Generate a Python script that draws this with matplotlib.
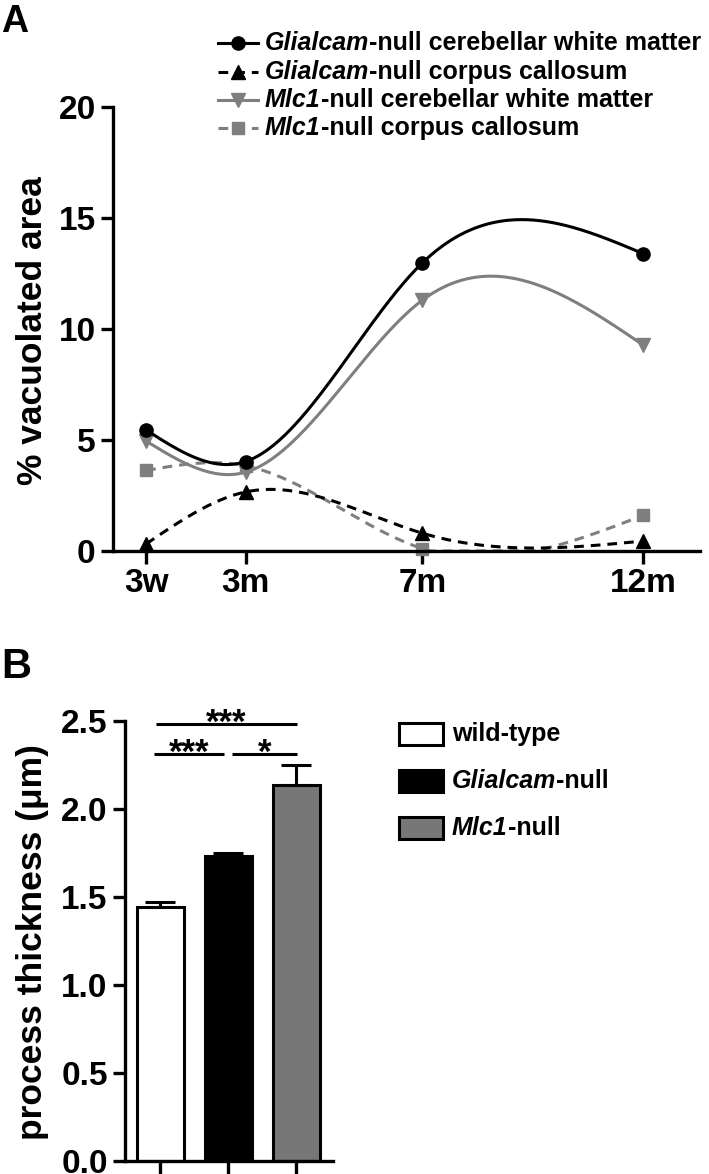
import numpy as np
import matplotlib
matplotlib.use('Agg')
import matplotlib.pyplot as plt
from matplotlib.patches import Rectangle
from matplotlib.ticker import FormatStrFormatter

plt.rcParams['font.family'] = ['Liberation Sans', 'DejaVu Sans']
plt.rcParams['font.weight'] = 'bold'
plt.rcParams['lines.scale_dashes'] = False

# --- panel A: % vacuolated area over time ---
months = [0.75, 3, 7, 12]
time_labels = ['3w', '3m', '7m', '12m']
glialcam_cwm = [5.45, 4.03, 12.98, 13.39]
glialcam_cc = [0.32, 2.66, 0.80, 0.45]
mlc1_cwm = [4.95, 3.55, 11.30, 9.27]
mlc1_cc = [3.63, 3.84, 0.11, 1.61]

# --- panel B: process thickness ---
genotypes = ['wild-type', 'Glialcam-null', 'Mlc1-null']
thickness = [1.44, 1.73, 2.136]
thickness_sem = [0.028, 0.018, 0.112]

GREY = '#7f7f7f'
DASH = (0, (7, 5))


def spline(x, y, xs):
    # natural cubic spline, like the prism "spline" connector
    x = np.asarray(x, float)
    y = np.asarray(y, float)
    n = len(x)
    h = np.diff(x)
    A = np.zeros((n, n))
    r = np.zeros(n)
    A[0, 0] = A[-1, -1] = 1
    for i in range(1, n - 1):
        A[i, i - 1] = h[i - 1]
        A[i, i] = 2 * (h[i - 1] + h[i])
        A[i, i + 1] = h[i]
        r[i] = 3 * ((y[i + 1] - y[i]) / h[i] - (y[i] - y[i - 1]) / h[i - 1])
    c = np.linalg.solve(A, r)
    b = (y[1:] - y[:-1]) / h - h * (2 * c[:-1] + c[1:]) / 3
    d = (c[1:] - c[:-1]) / (3 * h)
    idx = np.clip(np.searchsorted(x, xs) - 1, 0, n - 2)
    dx = xs - x[idx]
    return y[idx] + b[idx] * dx + c[idx] * dx ** 2 + d[idx] * dx ** 3


W, H = 709, 1174
fig = plt.figure(figsize=(W / 100, H / 100), dpi=100)


def px_axes(left, top, right, bottom):
    return fig.add_axes([left / W, 1 - bottom / H, (right - left) / W, (bottom - top) / H])


def style_axes(ax):
    for s in ['top', 'right']:
        ax.spines[s].set_visible(False)
    for s in ['left', 'bottom']:
        ax.spines[s].set_linewidth(2.4)
    ax.tick_params(width=2.4, length=9, labelsize=24, pad=3.5)


series = [
    ('Mlc1', '-null corpus callosum', mlc1_cc, GREY, DASH, 's', 9),
    ('Mlc1', '-null cerebellar white matter', mlc1_cwm, GREY, '-', 'v', 10),
    ('Glialcam', '-null corpus callosum', glialcam_cc, 'black', DASH, '^', 10),
    ('Glialcam', '-null cerebellar white matter', glialcam_cwm, 'black', '-', 'o', 9.5),
]

axA = px_axes(113, 107, 700, 551)
xs = np.linspace(months[0], months[-1], 400)
for gene, rest, vals, col, ls, mk, ms in series:
    ys = np.maximum(spline(months, vals, xs), 0)
    axA.plot(xs, ys, color=col, lw=2.2, linestyle=ls)
    axA.plot(months, vals, ls='none', marker=mk, ms=ms, color=col, clip_on=False)
axA.set_xlim(0, 13.28)
axA.set_ylim(0, 20)
axA.set_xticks(months)
axA.set_xticklabels(time_labels)
axA.set_yticks([0, 5, 10, 15, 20])
style_axes(axA)

axB = px_axes(125, 720.7, 333, 1160.7)
pos = np.arange(1, 4)
axB.bar(pos, thickness, width=0.69, color=['white', 'black', '#777777'],
        edgecolor='black', linewidth=2.2, zorder=2)
axB.errorbar(pos, thickness, yerr=[np.zeros(3), thickness_sem], fmt='none',
             ecolor='black', elinewidth=2.2, capsize=11, capthick=2.2, zorder=3)
axB.set_xlim(0.485, 3.54)
axB.set_ylim(0, 2.5)
axB.set_xticks(pos)
axB.set_xticklabels([])
axB.set_yticks(np.arange(0, 2.51, 0.5))
axB.yaxis.set_major_formatter(FormatStrFormatter('%.1f'))
style_axes(axB)

# significance bars
sig = [(0.94, 3.01, 2.48, '***'), (0.91, 1.94, 2.31, '***'), (2.06, 3.01, 2.31, '*')]
for x0, x1, y, stars in sig:
    axB.plot([x0, x1], [y, y], color='black', lw=2.2, clip_on=False, solid_capstyle='butt')
    axB.text((x0 + x1) / 2, y - 0.05, stars, ha='center', va='baseline',
             fontsize=25, clip_on=False)

# overlay in pixel coordinates for legends and labels
ov = fig.add_axes([0, 0, 1, 1])
ov.set_xlim(0, W)
ov.set_ylim(H, 0)
ov.axis('off')
renderer = fig.canvas.get_renderer()


def rich_text(x, y, parts, size):
    for txt, style in parts:
        t = ov.text(x, y, txt, fontsize=size, fontstyle=style, va='center', ha='left')
        x = t.get_window_extent(renderer=renderer).x1


ov.text(1, 32, 'A', fontsize=27, ha='left', va='baseline')
ov.text(1, 678, 'B', fontsize=30, ha='left', va='baseline')
ov.text(33, 331, '% vacuolated area', rotation=90, ha='center', va='center', fontsize=25.5)
ov.text(33, 942, 'process thickness (\u03bcm)', rotation=90, ha='center', va='center', fontsize=25.5)

rows = [43.3, 71.7, 100, 128.3]
for y, (gene, rest, vals, col, ls, mk, ms) in zip(rows, series[::-1]):
    ov.plot([218, 258], [y, y], color=col, lw=2.2, linestyle=ls)
    ov.plot([238], [y], marker=mk, ms=ms, color=col)
    rich_text(265, y, [(gene, 'italic'), (rest, 'normal')], 18)

leg_b = [('white', [('wild-type', 'normal')]),
         ('black', [('Glialcam', 'italic'), ('-null', 'normal')]),
         ('#777777', [('Mlc1', 'italic'), ('-null', 'normal')])]
for y, (fc, parts) in zip([734, 780.5, 828], leg_b):
    ov.add_patch(Rectangle((399, y - 11), 44, 22, facecolor=fc, edgecolor='black', lw=2.2))
    rich_text(452, y, parts, 18)

fig.savefig('out.png', dpi=100)
